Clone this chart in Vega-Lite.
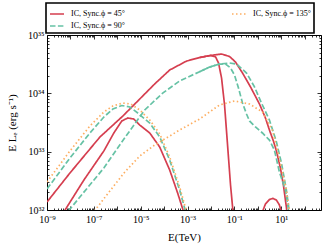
{
  "$schema": "https://vega.github.io/schema/vega-lite/v6.json",
  "width": 274,
  "height": 175,
  "autosize": "none",
  "padding": {"left": 47, "top": 35, "right": 6, "bottom": 37},
  "background": "white",
  "config": {
    "font": "Liberation Serif",
    "view": {"stroke": null},
    "legend": {"strokeWidth": 1.6},
    "axis": {"grid": false, "domainColor": "black", "tickColor": "black", "labelColor": "black", "titleColor": "black", "labelFont": "Liberation Serif", "titleFont": "Liberation Serif", "titleFontWeight": "normal", "domainWidth": 1, "tickWidth": 0.8}
  },
  "datasets": {
    "sed": [
      {"phi": "45°", "component": "synchrotron", "E": 5.56e-9, "L": 9.62e31},
      {"phi": "45°", "component": "synchrotron", "E": 3.77e-8, "L": 3.27e32},
      {"phi": "45°", "component": "synchrotron", "E": 2.68e-7, "L": 1.03e33},
      {"phi": "45°", "component": "synchrotron", "E": 7.13e-7, "L": 2.09e33},
      {"phi": "45°", "component": "synchrotron", "E": 1.56e-6, "L": 3.36e33},
      {"phi": "45°", "component": "synchrotron", "E": 2.82e-6, "L": 3.78e33},
      {"phi": "45°", "component": "synchrotron", "E": 5.07e-6, "L": 3.63e33},
      {"phi": "45°", "component": "synchrotron", "E": 9.14e-6, "L": 2.86e33},
      {"phi": "45°", "component": "synchrotron", "E": 2.44e-5, "L": 2.09e33},
      {"phi": "45°", "component": "synchrotron", "E": 6.5e-5, "L": 1.2e33},
      {"phi": "45°", "component": "synchrotron", "E": 1.73e-4, "L": 4.85e32},
      {"phi": "45°", "component": "synchrotron", "E": 3.79e-4, "L": 1.95e32},
      {"phi": "45°", "component": "synchrotron", "E": 6.84e-4, "L": 9.25e31},

      {"phi": "45°", "component": "IC", "E": 1e-9, "L": 1.37e32},
      {"phi": "45°", "component": "IC", "E": 9.55e-9, "L": 4.31e32},
      {"phi": "45°", "component": "IC", "E": 1.81e-7, "L": 1.78e33},
      {"phi": "45°", "component": "IC", "E": 1.73e-6, "L": 4.08e33},
      {"phi": "45°", "component": "IC", "E": 9.14e-6, "L": 8.0e33},
      {"phi": "45°", "component": "IC", "E": 3.98e-5, "L": 1.45e34},
      {"phi": "45°", "component": "IC", "E": 1.73e-4, "L": 2.51e34},
      {"phi": "45°", "component": "IC", "E": 9.18e-4, "L": 3.58e34},
      {"phi": "45°", "component": "IC", "E": 3.28e-3, "L": 4.11e34},
      {"phi": "45°", "component": "IC", "E": 9.66e-3, "L": 4.46e34},
      {"phi": "45°", "component": "IC", "E": 1.58e-2, "L": 4.2e34},
      {"phi": "45°", "component": "IC", "E": 2.11e-2, "L": 3.31e34},
      {"phi": "45°", "component": "IC", "E": 2.84e-2, "L": 1.83e34},
      {"phi": "45°", "component": "IC", "E": 3.81e-2, "L": 6.31e33},
      {"phi": "45°", "component": "IC", "E": 5.12e-2, "L": 1.3e33},
      {"phi": "45°", "component": "IC", "E": 6.86e-2, "L": 2.68e32},
      {"phi": "45°", "component": "IC", "E": 8.77e-2, "L": 9.25e31},

      {"phi": "45°", "component": "IC tail", "E": 1.629, "L": 9.62e31},
      {"phi": "45°", "component": "IC tail", "E": 2.123, "L": 1.27e32},
      {"phi": "45°", "component": "IC tail", "E": 3.141, "L": 1.51e32},
      {"phi": "45°", "component": "IC tail", "E": 4.345, "L": 1.585e32},
      {"phi": "45°", "component": "IC tail", "E": 6.252, "L": 1.48e32},
      {"phi": "45°", "component": "IC tail", "E": 8.375, "L": 1.22e32},
      {"phi": "45°", "component": "IC tail", "E": 9.908, "L": 9.62e31},

      {"phi": "45°", "component": "IC intrinsic", "E": 3.28e-3, "L": 4.11e34},
      {"phi": "45°", "component": "IC intrinsic", "E": 9.66e-3, "L": 4.46e34},
      {"phi": "45°", "component": "IC intrinsic", "E": 2.84e-2, "L": 4.72e34},
      {"phi": "45°", "component": "IC intrinsic", "E": 6.22e-2, "L": 4.28e34},
      {"phi": "45°", "component": "IC intrinsic", "E": 0.112, "L": 3.44e34},
      {"phi": "45°", "component": "IC intrinsic", "E": 0.223, "L": 2.23e34},
      {"phi": "45°", "component": "IC intrinsic", "E": 0.488, "L": 1.29e34},
      {"phi": "45°", "component": "IC intrinsic", "E": 1.18, "L": 6.56e33},
      {"phi": "45°", "component": "IC intrinsic", "E": 2.123, "L": 3.78e33},
      {"phi": "45°", "component": "IC intrinsic", "E": 3.141, "L": 2.35e33},
      {"phi": "45°", "component": "IC intrinsic", "E": 4.656, "L": 1.52e33},
      {"phi": "45°", "component": "IC intrinsic", "E": 6.252, "L": 1.03e33},
      {"phi": "45°", "component": "IC intrinsic", "E": 9.247, "L": 5.25e32},
      {"phi": "45°", "component": "IC intrinsic", "E": 12.42, "L": 2.68e32},
      {"phi": "45°", "component": "IC intrinsic", "E": 16.63, "L": 1.12e32},
      {"phi": "45°", "component": "IC intrinsic", "E": 17.66, "L": 8.87e31},

      {"phi": "90°", "component": "synchrotron", "E": 1e-9, "L": 2.29e32},
      {"phi": "90°", "component": "synchrotron", "E": 9.55e-9, "L": 7.78e32},
      {"phi": "90°", "component": "synchrotron", "E": 6.78e-8, "L": 2.09e33},
      {"phi": "90°", "component": "synchrotron", "E": 2.68e-7, "L": 3.93e33},
      {"phi": "90°", "component": "synchrotron", "E": 6.47e-7, "L": 5.38e33},
      {"phi": "90°", "component": "synchrotron", "E": 1.56e-6, "L": 6.18e33},
      {"phi": "90°", "component": "synchrotron", "E": 3.43e-6, "L": 5.83e33},
      {"phi": "90°", "component": "synchrotron", "E": 7.52e-6, "L": 4.6e33},
      {"phi": "90°", "component": "synchrotron", "E": 1.49e-5, "L": 3.63e33},
      {"phi": "90°", "component": "synchrotron", "E": 2.44e-5, "L": 3.1e33},
      {"phi": "90°", "component": "synchrotron", "E": 6.5e-5, "L": 1.78e33},
      {"phi": "90°", "component": "synchrotron", "E": 1.73e-4, "L": 7.19e32},
      {"phi": "90°", "component": "synchrotron", "E": 4.61e-4, "L": 2.2e32},
      {"phi": "90°", "component": "synchrotron", "E": 8.32e-4, "L": 9.25e31},

      {"phi": "90°", "component": "IC", "E": 8.24e-9, "L": 9.62e31},
      {"phi": "90°", "component": "IC", "E": 2.54e-8, "L": 1.67e32},
      {"phi": "90°", "component": "IC", "E": 2.68e-7, "L": 5.25e32},
      {"phi": "90°", "component": "IC", "E": 6.47e-7, "L": 8.77e32},
      {"phi": "90°", "component": "IC", "E": 2.55e-6, "L": 1.93e33},
      {"phi": "90°", "component": "IC", "E": 1.49e-5, "L": 5.18e33},
      {"phi": "90°", "component": "IC", "E": 8.71e-5, "L": 1.01e34},
      {"phi": "90°", "component": "IC", "E": 4.61e-4, "L": 1.63e34},
      {"phi": "90°", "component": "IC", "E": 3.28e-3, "L": 2.35e34},
      {"phi": "90°", "component": "IC", "E": 8.75e-3, "L": 2.82e34},
      {"phi": "90°", "component": "IC", "E": 2.33e-2, "L": 3.18e34},
      {"phi": "90°", "component": "IC", "E": 4.21e-2, "L": 3.18e34},
      {"phi": "90°", "component": "IC", "E": 6.86e-2, "L": 2.72e34},
      {"phi": "90°", "component": "IC", "E": 0.1016, "L": 2.06e34},
      {"phi": "90°", "component": "IC", "E": 0.15, "L": 1.23e34},
      {"phi": "90°", "component": "IC", "E": 0.223, "L": 6.82e33},
      {"phi": "90°", "component": "IC", "E": 0.33, "L": 4.43e33},
      {"phi": "90°", "component": "IC", "E": 0.443, "L": 3.36e33},
      {"phi": "90°", "component": "IC", "E": 0.796, "L": 2.65e33},
      {"phi": "90°", "component": "IC", "E": 1.581, "L": 2.09e33},
      {"phi": "90°", "component": "IC", "E": 3.141, "L": 1.58e33},
      {"phi": "90°", "component": "IC", "E": 5.129, "L": 1.07e33},
      {"phi": "90°", "component": "IC", "E": 8.375, "L": 4.48e32},
      {"phi": "90°", "component": "IC", "E": 15.1, "L": 2.2e32},
      {"phi": "90°", "component": "IC", "E": 21.28, "L": 9.25e31},

      {"phi": "90°", "component": "IC intrinsic", "E": 3.28e-3, "L": 2.35e34},
      {"phi": "90°", "component": "IC intrinsic", "E": 8.75e-3, "L": 2.82e34},
      {"phi": "90°", "component": "IC intrinsic", "E": 2.33e-2, "L": 3.18e34},
      {"phi": "90°", "component": "IC intrinsic", "E": 6.22e-2, "L": 3.31e34},
      {"phi": "90°", "component": "IC intrinsic", "E": 0.124, "L": 3.18e34},
      {"phi": "90°", "component": "IC intrinsic", "E": 0.33, "L": 2.23e34},
      {"phi": "90°", "component": "IC intrinsic", "E": 0.723, "L": 1.29e34},
      {"phi": "90°", "component": "IC intrinsic", "E": 1.436, "L": 6.82e33},
      {"phi": "90°", "component": "IC intrinsic", "E": 3.141, "L": 3.49e33},
      {"phi": "90°", "component": "IC intrinsic", "E": 6.252, "L": 1.47e33},
      {"phi": "90°", "component": "IC intrinsic", "E": 10.21, "L": 6.4e32},
      {"phi": "90°", "component": "IC intrinsic", "E": 16.63, "L": 2.2e32},
      {"phi": "90°", "component": "IC intrinsic", "E": 22.34, "L": 9.25e31},

      {"phi": "135°", "component": "synchrotron", "E": 1e-9, "L": 3.02e32},
      {"phi": "135°", "component": "synchrotron", "E": 9.55e-9, "L": 1.03e33},
      {"phi": "135°", "component": "synchrotron", "E": 6.78e-8, "L": 2.75e33},
      {"phi": "135°", "component": "synchrotron", "E": 2.68e-7, "L": 4.79e33},
      {"phi": "135°", "component": "synchrotron", "E": 6.47e-7, "L": 6.07e33},
      {"phi": "135°", "component": "synchrotron", "E": 1.73e-6, "L": 6.82e33},
      {"phi": "135°", "component": "synchrotron", "E": 3.78e-6, "L": 6.56e33},
      {"phi": "135°", "component": "synchrotron", "E": 9.14e-6, "L": 5.18e33},
      {"phi": "135°", "component": "synchrotron", "E": 2.44e-5, "L": 3.49e33},
      {"phi": "135°", "component": "synchrotron", "E": 6.5e-5, "L": 2.01e33},
      {"phi": "135°", "component": "synchrotron", "E": 1.73e-4, "L": 8.09e32},
      {"phi": "135°", "component": "synchrotron", "E": 4.61e-4, "L": 2.48e32},
      {"phi": "135°", "component": "synchrotron", "E": 9.18e-4, "L": 9.25e31},

      {"phi": "135°", "component": "IC", "E": 1.05e-7, "L": 9.62e31},
      {"phi": "135°", "component": "IC", "E": 1.81e-7, "L": 1.27e32},
      {"phi": "135°", "component": "IC", "E": 4.82e-7, "L": 2.12e32},
      {"phi": "135°", "component": "IC", "E": 2.1e-6, "L": 4.48e32},
      {"phi": "135°", "component": "IC", "E": 9.14e-6, "L": 8.43e32},
      {"phi": "135°", "component": "IC", "E": 3.98e-5, "L": 1.3e33},
      {"phi": "135°", "component": "IC", "E": 1.06e-4, "L": 1.65e33},
      {"phi": "135°", "component": "IC", "E": 4.61e-4, "L": 2.35e33},
      {"phi": "135°", "component": "IC", "E": 3.28e-3, "L": 3.63e33},
      {"phi": "135°", "component": "IC", "E": 2.33e-2, "L": 6.31e33},
      {"phi": "135°", "component": "IC", "E": 0.1016, "L": 7.4e33},
      {"phi": "135°", "component": "IC", "E": 0.443, "L": 6.56e33},
      {"phi": "135°", "component": "IC", "E": 1.581, "L": 4.79e33},
      {"phi": "135°", "component": "IC", "E": 4.217, "L": 2.35e33},
      {"phi": "135°", "component": "IC", "E": 6.887, "L": 1.07e33},
      {"phi": "135°", "component": "IC", "E": 11.25, "L": 4.48e32},
      {"phi": "135°", "component": "IC", "E": 16.63, "L": 2.2e32},
      {"phi": "135°", "component": "IC", "E": 22.34, "L": 9.25e31}
    ]
  },
  "data": {"name": "sed"},
  "resolve": {"scale": {"x": "shared", "y": "shared"}, "axis": {"x": "independent", "y": "independent"}},
  "layer": [
    {
      "mark": {"type": "line", "clip": true},
      "encoding": {
        "x": {"field": "E", "type": "quantitative", "scale": {"type": "log", "domain": [1e-9, 500], "nice": false},
          "axis": {"orient": "bottom", "values": [1e-9, 1e-8, 1e-7, 1e-6, 1e-5, 1e-4, 1e-3, 1e-2, 1e-1, 1, 10, 100],
            "labelExpr": "['10⁻⁹','','10⁻⁷','','10⁻⁵','','10⁻³','','10⁻¹','','10¹',''][round(log(datum.value)/LN10)+9]",
            "tickSize": -4, "labelPadding": 8, "labelFontSize": 10, "labelOverlap": false, "labelFlush": false,
            "title": "E(TeV)", "titleFontSize": 11, "titleX": 137, "titleY": 27, "titleBaseline": "middle"}},
        "y": {"field": "L", "type": "quantitative", "scale": {"type": "log", "domain": [1e32, 1e35], "nice": false},
          "axis": {"orient": "left", "values": [1e32, 1e33, 1e34, 1e35],
            "labelExpr": "['10³²','10³³','10³⁴','10³⁵'][round(log(datum.value)/LN10)-32]",
            "tickSize": -4, "labelPadding": 7, "labelFontSize": 10, "labelOverlap": false, "labelFlush": false,
            "title": "E Lₑ (erg s⁻¹)", "titleFontSize": 11, "titleX": -35, "titleY": 87.5, "titleBaseline": "middle", "titleAngle": -90}},
        "color": {"field": "phi", "type": "nominal",
          "scale": {"domain": ["45°", "90°", "135°"], "range": ["#d53e4f", "#66c2a5", "#fdae61"]},
          "legend": {"orient": "none", "legendX": -1, "legendY": -32, "columns": 2, "direction": "vertical", "columnPadding": 103, "rowPadding": -3,
            "padding": 3, "strokeColor": "black", "fillColor": "white", "title": null,
            "labelExpr": "'IC, Sync.ϕ = ' + datum.label", "labelFont": "Liberation Serif", "labelFontSize": 8, "labelColor": "black",
            "symbolType": "stroke", "symbolSize": 196, "symbolStrokeWidth": 1.6, "labelOffset": 6}},
        "strokeDash": {"field": "phi", "type": "nominal",
          "scale": {"domain": ["45°", "90°", "135°"], "range": [[1, 0], [5.5, 2.4], [1.5, 2.5]]}},
        "strokeWidth": {"field": "component", "type": "nominal",
          "scale": {"domain": ["synchrotron", "IC", "IC tail", "IC intrinsic"], "range": [1.7, 1.7, 1.7, 0.9]}, "legend": null},
        "detail": {"field": "component"}
      }
    },
    {
      "mark": {"type": "point", "opacity": 0, "clip": true},
      "encoding": {
        "x": {"field": "E", "type": "quantitative", "scale": {"type": "log", "domain": [1e-9, 500], "nice": false},
          "axis": {"orient": "bottom", "domain": false, "labels": false, "title": null, "tickSize": -2,
            "values": [2e-9,3e-9,4e-9,5e-9,6e-9,7e-9,8e-9,9e-9,2e-8,3e-8,4e-8,5e-8,6e-8,7e-8,8e-8,9e-8,2e-7,3e-7,4e-7,5e-7,6e-7,7e-7,8e-7,9e-7,2e-6,3e-6,4e-6,5e-6,6e-6,7e-6,8e-6,9e-6,2e-5,3e-5,4e-5,5e-5,6e-5,7e-5,8e-5,9e-5,2e-4,3e-4,4e-4,5e-4,6e-4,7e-4,8e-4,9e-4,2e-3,3e-3,4e-3,5e-3,6e-3,7e-3,8e-3,9e-3,2e-2,3e-2,4e-2,5e-2,6e-2,7e-2,8e-2,9e-2,0.2,0.3,0.4,0.5,0.6,0.7,0.8,0.9,2,3,4,5,6,7,8,9,20,30,40,50,60,70,80,90,200,300,400]}},
        "y": {"field": "L", "type": "quantitative", "scale": {"type": "log", "domain": [1e32, 1e35], "nice": false},
          "axis": {"orient": "left", "domain": false, "labels": false, "title": null, "tickSize": -2,
            "values": [2e32,3e32,4e32,5e32,6e32,7e32,8e32,9e32,2e33,3e33,4e33,5e33,6e33,7e33,8e33,9e33,2e34,3e34,4e34,5e34,6e34,7e34,8e34,9e34]}}
      }
    },
    {
      "mark": {"type": "point", "opacity": 0, "clip": true},
      "encoding": {
        "x": {"field": "E", "type": "quantitative", "scale": {"type": "log", "domain": [1e-9, 500], "nice": false},
          "axis": {"orient": "top", "labels": false, "title": null, "tickSize": -4,
            "values": [1e-9, 1e-8, 1e-7, 1e-6, 1e-5, 1e-4, 1e-3, 1e-2, 1e-1, 1, 10, 100]}},
        "y": {"field": "L", "type": "quantitative", "scale": {"type": "log", "domain": [1e32, 1e35], "nice": false},
          "axis": {"orient": "right", "labels": false, "title": null, "tickSize": -4, "values": [1e32, 1e33, 1e34, 1e35]}}
      }
    },
    {
      "mark": {"type": "point", "opacity": 0, "clip": true},
      "encoding": {
        "x": {"field": "E", "type": "quantitative", "scale": {"type": "log", "domain": [1e-9, 500], "nice": false},
          "axis": {"orient": "top", "domain": false, "labels": false, "title": null, "tickSize": -2,
            "values": [2e-9,3e-9,4e-9,5e-9,6e-9,7e-9,8e-9,9e-9,2e-8,3e-8,4e-8,5e-8,6e-8,7e-8,8e-8,9e-8,2e-7,3e-7,4e-7,5e-7,6e-7,7e-7,8e-7,9e-7,2e-6,3e-6,4e-6,5e-6,6e-6,7e-6,8e-6,9e-6,2e-5,3e-5,4e-5,5e-5,6e-5,7e-5,8e-5,9e-5,2e-4,3e-4,4e-4,5e-4,6e-4,7e-4,8e-4,9e-4,2e-3,3e-3,4e-3,5e-3,6e-3,7e-3,8e-3,9e-3,2e-2,3e-2,4e-2,5e-2,6e-2,7e-2,8e-2,9e-2,0.2,0.3,0.4,0.5,0.6,0.7,0.8,0.9,2,3,4,5,6,7,8,9,20,30,40,50,60,70,80,90,200,300,400]}},
        "y": {"field": "L", "type": "quantitative", "scale": {"type": "log", "domain": [1e32, 1e35], "nice": false},
          "axis": {"orient": "right", "domain": false, "labels": false, "title": null, "tickSize": -2,
            "values": [2e32,3e32,4e32,5e32,6e32,7e32,8e32,9e32,2e33,3e33,4e33,5e33,6e33,7e33,8e33,9e33,2e34,3e34,4e34,5e34,6e34,7e34,8e34,9e34]}}
      }
    }
  ]
}
